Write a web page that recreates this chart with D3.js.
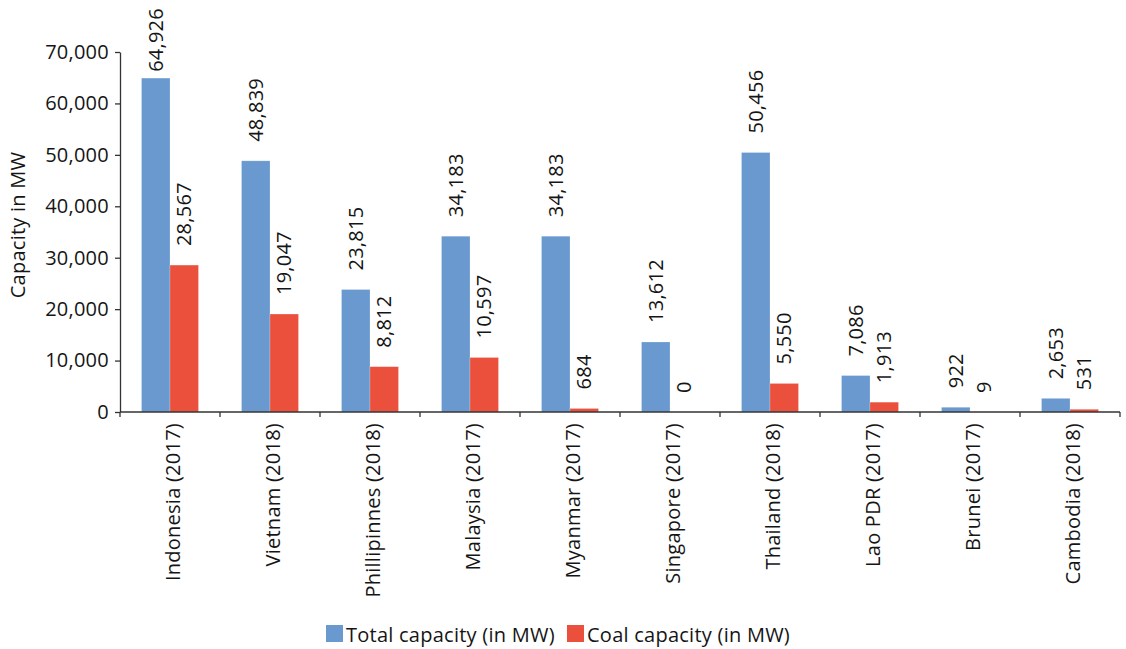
<!DOCTYPE html>
<html>
<head>
<meta charset="utf-8">
<script src="https://cdn.jsdelivr.net/npm/d3@7"></script>
<style>
  html, body { margin: 0; padding: 0; background: #fff; }
  svg { display: block; }
  text { font-family: "Open Sans", "Noto Sans", sans-serif; fill: #151515; letter-spacing: 0.25px; }
</style>
</head>
<body>
<svg id="chart" width="1126" height="649"></svg>
<script>
const categories = ["Indonesia (2017)", "Vietnam (2018)", "Phillipinnes (2018)", "Malaysia (2017)",
  "Myanmar (2017)", "Singapore (2017)", "Thailand (2018)", "Lao PDR (2017)", "Brunei (2017)", "Cambodia (2018)"];
const totalCapacity = [64926, 48839, 23815, 34183, 34183, 13612, 50456, 7086, 922, 2653];
const coalCapacity = [28567, 19047, 8812, 10597, 684, 0, 5550, 1913, 9, 531];
const seriesKeys = ["total", "coal"];
const seriesNames = ["Total capacity (in MW)", "Coal capacity (in MW)"];
const seriesColors = ["#6a99d0", "#ea503c"];
const yTicks = [0, 10000, 20000, 30000, 40000, 50000, 60000, 70000];
const yTitle = "Capacity in MW";

const svg = d3.select("#chart");
const mLeft = 120, mRight = 1120, mTop = 52, mBottom = 412;
const fmt = d3.format(",");

const x = d3.scaleBand().domain(categories).range([mLeft, mRight]).paddingInner(0).paddingOuter(0);
const xs = d3.scaleBand().domain(seriesKeys).range([0, x.bandwidth()]).paddingInner(0).paddingOuter(0.755);
const y = d3.scaleLinear().domain([0, 70000]).range([mBottom, mTop]);
const color = d3.scaleOrdinal().domain(seriesKeys).range(seriesColors);

const rows = categories.map((c, i) => ({ cat: c, total: totalCapacity[i], coal: coalCapacity[i] }));

// bars
const groups = svg.append("g").selectAll("g").data(rows).join("g")
  .attr("transform", d => `translate(${x(d.cat)},0)`);

groups.selectAll("rect").data(d => seriesKeys.map(k => ({ key: k, value: d[k] }))).join("rect")
  .attr("x", d => xs(d.key))
  .attr("width", xs.bandwidth())
  .attr("y", d => y(d.value))
  .attr("height", d => y(0) - y(d.value))
  .attr("fill", d => color(d.key))
  .attr("stroke", "#ffffff")
  .attr("stroke-opacity", 0.35)
  .attr("stroke-width", 0.6);

// value labels
groups.selectAll("text.val").data(d => seriesKeys.map(k => ({ key: k, value: d[k] }))).join("text")
  .attr("class", "val")
  .attr("font-size", 20)
  .attr("text-anchor", "start")
  .attr("dy", "0.35em")
  .text(d => fmt(d.value))
  .each(function(d) {
    const len = this.getComputedTextLength();
    const yy = Math.max(y(d.value) - 19, 8 + len);
    const xx = xs(d.key) + xs.bandwidth() / 2;
    d3.select(this).attr("transform", `translate(${xx},${yy}) rotate(-90)`);
  });

// y axis
const yAxis = d3.axisLeft(y).tickValues(yTicks).tickFormat(fmt).tickSize(5).tickSizeOuter(0).tickPadding(6);
const gy = svg.append("g").attr("transform", `translate(${mLeft},0)`).call(yAxis);
gy.selectAll("text").attr("font-size", 20).attr("font-family", "Open Sans, Noto Sans, sans-serif").attr("fill", "#151515");
gy.selectAll("line, path").attr("stroke", "#333").attr("stroke-width", 1.3);

// x axis (ticks at band boundaries)
const gx = svg.append("g");
gx.append("line").attr("x1", mLeft).attr("x2", mRight).attr("y1", y(0)).attr("y2", y(0))
  .attr("stroke", "#333").attr("stroke-width", 1.3);
const boundaries = categories.map(c => x(c)).concat([x(categories[categories.length - 1]) + x.bandwidth()]);
gx.selectAll("line.tick").data(boundaries).join("line").attr("class", "tick")
  .attr("x1", d => d).attr("x2", d => d).attr("y1", y(0)).attr("y2", y(0) + 5)
  .attr("stroke", "#333").attr("stroke-width", 1.3);
gx.selectAll("text").data(categories).join("text")
  .attr("font-size", 20)
  .attr("text-anchor", "end")
  .attr("dy", "0.35em")
  .attr("transform", d => `translate(${x(d) + x.bandwidth() / 2 + 3},${y(0) + 11}) rotate(-90)`)
  .text(d => d);

// y title
svg.append("text")
  .attr("font-size", 20)
  .attr("text-anchor", "middle")
  .attr("transform", `translate(25,225) rotate(-90)`)
  .text(yTitle);

// legend
const legendX = [326, 567];
const lg = svg.append("g").selectAll("g").data(seriesKeys).join("g")
  .attr("transform", (d, i) => `translate(${legendX[i]},625)`);
lg.append("rect").attr("width", 17).attr("height", 17).attr("fill", d => color(d));
lg.append("text").attr("x", 20).attr("y", 16.5).attr("font-size", 20)
  .text((d, i) => seriesNames[i]);
</script>
</body>
</html>
